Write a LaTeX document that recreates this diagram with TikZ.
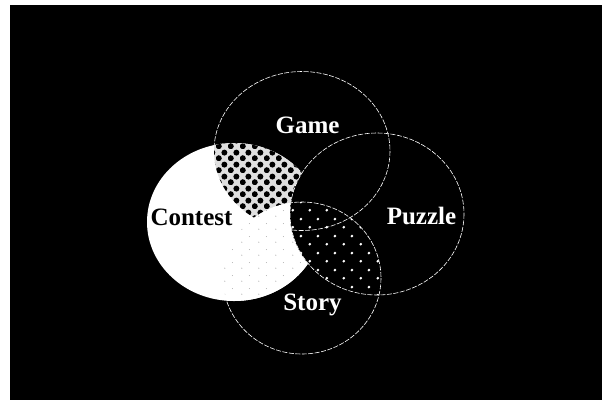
\documentclass[tikz,border=0pt]{standalone}
\usepackage{fontspec}
\setmainfont{Liberation Serif}
\usetikzlibrary{patterns}

% dark blobs set checkerwise (Contest and Game)
\pgfdeclarepatternformonly{checkblobs}{\pgfpointorigin}{\pgfqpoint{12pt}{12pt}}{\pgfqpoint{12pt}{12pt}}{%
    \pgfpathcircle{\pgfqpoint{3pt}{3pt}}{3.2pt}%
    \pgfpathcircle{\pgfqpoint{9pt}{9pt}}{3.2pt}%
    \pgfusepath{fill}}
% small bright points (Story and Puzzle)
\pgfdeclarepatternformonly{stardots}{\pgfpointorigin}{\pgfqpoint{17pt}{17pt}}{\pgfqpoint{17pt}{17pt}}{%
    \pgfpathcircle{\pgfqpoint{4pt}{4pt}}{1.5pt}%
    \pgfpathcircle{\pgfqpoint{12.5pt}{12.5pt}}{1.5pt}%
    \pgfusepath{fill}}
% sparse specks (Contest and Story)
\pgfdeclarepatternformonly{specks}{\pgfpointorigin}{\pgfqpoint{17pt}{13pt}}{\pgfqpoint{17pt}{13pt}}{%
    \pgfpathcircle{\pgfqpoint{4pt}{3pt}}{0.6pt}%
    \pgfpathcircle{\pgfqpoint{12pt}{9pt}}{0.5pt}%
    \pgfusepath{fill}}

\begin{document}
\begin{tikzpicture}[
    x=1pt, y=-1pt,
    outline/.style={draw=white, line width=0.6pt, dash pattern=on 5pt off 1.5pt},
    setname/.style={font=\bfseries\fontsize{25}{30}\selectfont, inner sep=0pt, anchor=base},
    gamesize/.style={x radius=88, y radius=79.5},
    contestsize/.style={x radius=87, y radius=79},
    puzzlesize/.style={x radius=87, y radius=81},
    storysize/.style={x radius=79, y radius=76},
    checker/.style={fill=gray!25, postaction={pattern=checkblobs, pattern color=black}},
    stars/.style={fill=black, postaction={pattern=stardots, pattern color=white}},
    speckled/.style={fill=white, postaction={pattern=specks, pattern color=gray!70}}
]
    \useasboundingbox (0,0) rectangle (602,400);
    \fill[white] (0,0) rectangle (602,400);
    \fill[black] (10,5) rectangle (602,400);

    % centres of the four sets
    \coordinate (game) at (302,151);
    \coordinate (contest) at (234,222);
    \coordinate (puzzle) at (377,214);
    \coordinate (story) at (302,278);

    % --- outlines first, Contest covers them ---
    \draw[outline] (game) ellipse [gamesize];
    \draw[outline] (story) ellipse [storysize];

    % --- Contest ---
    \fill[white] (contest) ellipse [contestsize];
    \begin{scope}
        \clip (contest) ellipse [contestsize];
        \path[checker] (game) ellipse [gamesize];
        \path[speckled] (story) ellipse [storysize];
    \end{scope}

    % --- Puzzle, with the Story overlap ---
    \fill[black] (puzzle) ellipse [puzzlesize];
    \begin{scope}
        \clip (puzzle) ellipse [puzzlesize];
        \path[stars] (story) ellipse [storysize];
        \draw[outline] (game) ellipse [gamesize];
        \draw[outline] (story) ellipse [storysize];
    \end{scope}
    \draw[outline] (puzzle) ellipse [puzzlesize];

    % --- names ---
    \node[setname, white] (gametext) at (307.5,133) {Game};
    \node[setname, black] (contesttext) at (191.5,225) {Contest};
    \node[setname, white] (puzzletext) at (421.5,224) {Puzzle};
    \node[setname, white] (storytext) at (312.5,310) {Story};
\end{tikzpicture}
\end{document}
